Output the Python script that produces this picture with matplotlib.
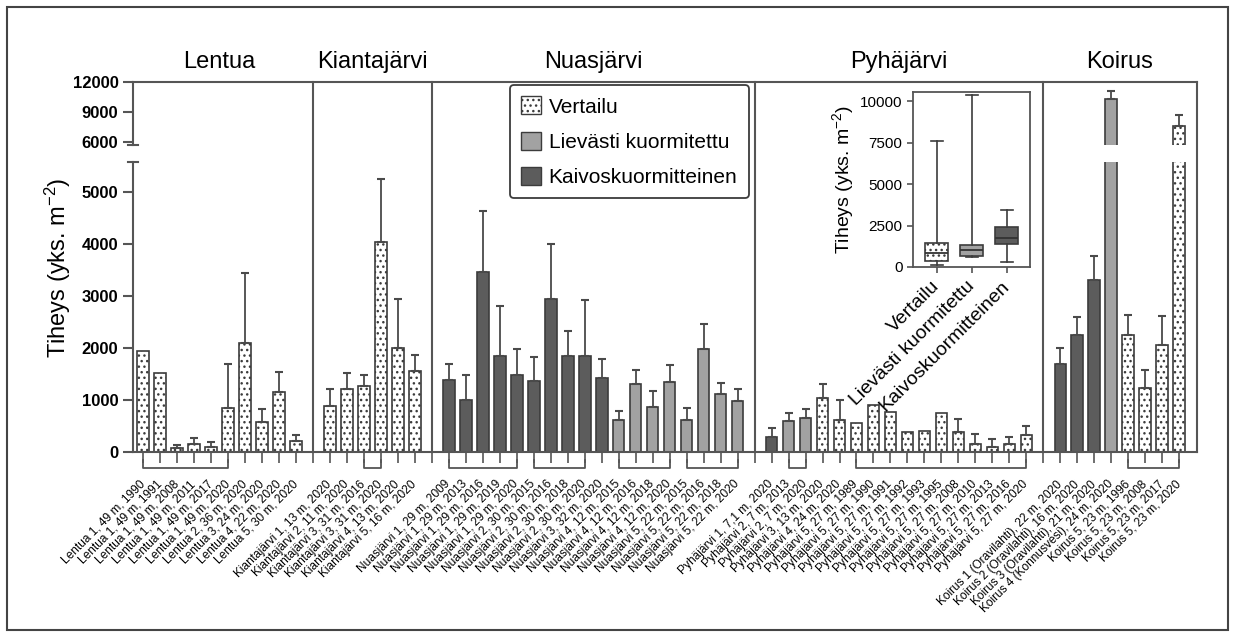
import matplotlib.pyplot as plt
import matplotlib.transforms as mtransforms
from matplotlib.patches import Patch, Rectangle

plt.rcParams['font.family'] = ['Liberation Sans', 'DejaVu Sans']
plt.rcParams['mathtext.fontset'] = 'custom'
plt.rcParams['mathtext.rm'] = 'Liberation Sans'
plt.rcParams['mathtext.it'] = 'Liberation Sans:italic'
plt.rcParams['hatch.color'] = '#6a6a6a'
plt.rcParams['hatch.linewidth'] = 1.0

# V = vertailu, L = lievästi kuormitettu, K = kaivoskuormitteinen
jarvet = ['Lentua', 'Kiantajärvi', 'Nuasjärvi', 'Pyhäjärvi', 'Koirus']

lentua_nimet = ['Lentua 1, 49 m, 1990', 'Lentua 1, 49 m, 1991', 'Lentua 1, 49 m, 2008',
                'Lentua 1, 49 m, 2011', 'Lentua 1, 49 m, 2017', 'Lentua 1, 49 m, 2020',
                'Lentua 2, 36 m, 2020', 'Lentua 3, 24 m, 2020', 'Lentua 4, 22 m, 2020',
                'Lentua 5, 30 m, 2020']
lentua_tiheys = [1940, 1510, 70, 150, 100, 850, 2100, 570, 1150, 220]
lentua_sd = [0, 0, 65, 115, 95, 840, 1340, 260, 380, 110]
lentua_tyyppi = ['V'] * 10
lentua_sarjat = [(0, 5)]

kianta_nimet = ['Kiantajärvi 1, 13 m, 2020', 'Kiantajärvi 2, 11 m, 2020',
                'Kiantajärvi 3, 31 m, 2016', 'Kiantajärvi 3, 31 m, 2020',
                'Kiantajärvi 4, 13 m, 2020', 'Kiantajärvi 5, 16 m, 2020']
kianta_tiheys = [890, 1210, 1270, 4030, 1990, 1560]
kianta_sd = [320, 310, 200, 1220, 940, 310]
kianta_tyyppi = ['V'] * 6
kianta_sarjat = [(2, 3)]

nuas_nimet = ['Nuasjärvi 1, 29 m, 2009', 'Nuasjärvi 1, 29 m, 2013', 'Nuasjärvi 1, 29 m, 2016',
              'Nuasjärvi 1, 29 m, 2019', 'Nuasjärvi 1, 29 m, 2020', 'Nuasjärvi 2, 30 m, 2015',
              'Nuasjärvi 2, 30 m, 2016', 'Nuasjärvi 2, 30 m, 2018', 'Nuasjärvi 2, 30 m, 2020',
              'Nuasjärvi 3, 32 m, 2020', 'Nuasjärvi 4, 12 m, 2015', 'Nuasjärvi 4, 12 m, 2016',
              'Nuasjärvi 4, 12 m, 2018', 'Nuasjärvi 4, 12 m, 2020', 'Nuasjärvi 5, 22 m, 2015',
              'Nuasjärvi 5, 22 m, 2016', 'Nuasjärvi 5, 22 m, 2018', 'Nuasjärvi 5, 22 m, 2020']
nuas_tiheys = [1390, 1000, 3450, 1850, 1480, 1370, 2940, 1850, 1850,
               1430, 620, 1300, 870, 1350, 610, 1970, 1120, 970]
nuas_sd = [300, 480, 1170, 960, 490, 450, 1050, 470, 1060,
           350, 170, 270, 310, 330, 230, 480, 210, 240]
nuas_tyyppi = ['K'] * 10 + ['L'] * 8
nuas_sarjat = [(0, 4), (5, 8), (10, 13), (14, 17)]

pyha_nimet = ['Pyhäjärvi 1, 7,1 m, 2020', 'Pyhäjärvi 2, 7 m, 2013', 'Pyhäjärvi 2, 7 m, 2020',
              'Pyhäjärvi 3, 13 m, 2020', 'Pyhäjärvi 4, 24 m, 2020', 'Pyhäjärvi 5, 27 m, 1989',
              'Pyhäjärvi 5, 27 m, 1990', 'Pyhäjärvi 5, 27 m, 1991', 'Pyhäjärvi 5, 27 m, 1992',
              'Pyhäjärvi 5, 27 m, 1993', 'Pyhäjärvi 5, 27 m, 1995', 'Pyhäjärvi 5, 27 m, 2008',
              'Pyhäjärvi 5, 27 m, 2010', 'Pyhäjärvi 5, 27 m, 2013', 'Pyhäjärvi 5, 27 m, 2016',
              'Pyhäjärvi 5, 27 m, 2020']
pyha_tiheys = [290, 600, 650, 1030, 610, 560, 900, 760, 390, 410, 750, 390, 150, 100, 150, 320]
pyha_sd = [170, 150, 170, 270, 390, 0, 0, 0, 0, 0, 0, 240, 190, 150, 130, 180]
pyha_tyyppi = ['K', 'L', 'L'] + ['V'] * 13
pyha_sarjat = [(1, 2), (5, 15)]

koirus_nimet = ['Koirus 1 (Oravilahti), 22 m, 2020', 'Koirus 2 (Oravilahti), 16 m, 2020',
                'Koirus 3 (Oravilahti), 21 m, 2020', 'Koirus 4 (Konnusvesi), 24 m, 2020',
                'Koirus 5, 23 m, 1996', 'Koirus 5, 23 m, 2008', 'Koirus 5, 23 m, 2017',
                'Koirus 5, 23 m, 2020']
koirus_tiheys = [1690, 2240, 3310, 10350, 2240, 1230, 2060, 7580]
koirus_sd = [310, 360, 460, 800, 390, 340, 560, 1150]
koirus_tyyppi = ['K', 'K', 'K', 'L', 'V', 'V', 'V', 'V']
koirus_sarjat = [(4, 7)]

# laatikkokuvaajan tunnusluvut (min, q1, mediaani, q3, max)
laatikko_nimet = ['Vertailu', 'Lievästi kuormitettu', 'Kaivoskuormitteinen']
laatikko_min = [100, 600, 300]
laatikko_q1 = [360, 650, 1400]
laatikko_med = [840, 1000, 1770]
laatikko_q3 = [1470, 1320, 2410]
laatikko_max = [7570, 10340, 3420]

ryhmat = [
    (lentua_nimet, lentua_tiheys, lentua_sd, lentua_tyyppi, lentua_sarjat),
    (kianta_nimet, kianta_tiheys, kianta_sd, kianta_tyyppi, kianta_sarjat),
    (nuas_nimet, nuas_tiheys, nuas_sd, nuas_tyyppi, nuas_sarjat),
    (pyha_nimet, pyha_tiheys, pyha_sd, pyha_tyyppi, pyha_sarjat),
    (koirus_nimet, koirus_tiheys, koirus_sd, koirus_tyyppi, koirus_sarjat),
]

# yksi tyhjä paikka järvien väliin, siihen pystyviiva
x_pos, nimet, tiheys, sd, tyyppi = [], [], [], [], []
erottimet, otsikko_x, sulut = [], [], []
paikka = 0
for g, (n, t, s, ty, sar) in enumerate(ryhmat):
    if g > 0:
        erottimet.append(paikka)
        paikka += 1
    xs = list(range(paikka, paikka + len(n)))
    x_pos += xs
    nimet += n
    tiheys += t
    sd += s
    tyyppi += ty
    otsikko_x.append((xs[0] + xs[-1]) / 2)
    for a, b in sar:
        sulut.append((xs[a], xs[b]))
    paikka += len(n)
oikea_reuna = paikka

W, H = 1235, 637
def fr(x0, y0, x1, y1):
    return [x0 / W, 1 - y1 / H, (x1 - x0) / W, (y1 - y0) / H]

vari = {'V': 'white', 'L': '#a2a2a2', 'K': '#5c5c5c'}
kuvio = {'V': '...', 'L': None, 'K': None}
reuna = '#3c3c3c'
akseli = '#555555'

fig = plt.figure(figsize=(12.35, 6.37), dpi=100)
ax_lo = fig.add_axes(fr(133, 162, 1197, 452))
ax_hi = fig.add_axes(fr(133, 82, 1197, 145), sharex=ax_lo)
ax_hi.patch.set_visible(False)

for ax in (ax_lo, ax_hi):
    for code in 'VLK':
        idx = [i for i, c in enumerate(tyyppi) if c == code]
        ax.bar([x_pos[i] for i in idx], [tiheys[i] for i in idx], width=0.68,
               color=vari[code], edgecolor=reuna, linewidth=1.2, hatch=kuvio[code], zorder=2)
    idx = [i for i in range(len(sd)) if sd[i] > 0]
    ax.errorbar([x_pos[i] for i in idx], [tiheys[i] for i in idx],
                yerr=[[0] * len(idx), [sd[i] for i in idx]], fmt='none',
                ecolor='#4a4a4a', elinewidth=1.3, capsize=3, capthick=1.5, zorder=3)
    ax.set_xlim(-0.6, oikea_reuna + 0.05)
    for sp in ax.spines.values():
        sp.set_color(akseli)
        sp.set_linewidth(1.5)
    ax.spines['right'].set_visible(False)
    ax.tick_params(axis='y', direction='out', length=7, width=1.5, color=akseli, labelsize=12)

ax_lo.set_ylim(0, 5570)
ax_hi.set_ylim(5700, 12000)
ax_lo.spines['top'].set_visible(False)
ax_hi.spines['bottom'].set_visible(False)
ax_lo.set_yticks(range(0, 6000, 1000))
ax_hi.set_yticks([6000, 9000, 12000])
for ax in (ax_lo, ax_hi):
    for lab in ax.get_yticklabels():
        lab.set_fontweight('bold')
ax_hi.tick_params(axis='x', bottom=False, labelbottom=False)

# katkoviivat y-akselilla
ax_lo.plot([-0.005, 0.005], [1, 1], transform=ax_lo.transAxes, clip_on=False, color=akseli, lw=1.5)
ax_hi.plot([-0.005, 0.005], [0, 0], transform=ax_hi.transAxes, clip_on=False, color=akseli, lw=1.5)

# x-akselin nimiöt
tick_lab = [''] * (oikea_reuna)
for x, n in zip(x_pos, nimet):
    tick_lab[x] = n
ax_lo.set_xticks(range(oikea_reuna))
ax_lo.set_xticklabels(tick_lab, rotation=45, ha='right', va='center',
                      rotation_mode='anchor', fontsize=8.6)
ax_lo.tick_params(axis='x', direction='out', length=8, width=1.2, color=akseli, pad=14)

# pystyviivat järvien välissä ja oikea reuna
yla = (452 - 82) / 290
tr_x = ax_lo.get_xaxis_transform()
for e in erottimet + [oikea_reuna + 0.05]:
    ax_lo.plot([e, e], [0, yla], transform=tr_x, clip_on=False, color=akseli, lw=1.5)

# saman paikan aikasarjat
for a, b in sulut:
    ax_lo.plot([a, a, b, b], [-8 / 290, -16 / 290, -16 / 290, -8 / 290], transform=tr_x,
               clip_on=False, color=akseli, lw=1.3)

tr_t = mtransforms.blended_transform_factory(ax_lo.transData, fig.transFigure)
for x, n in zip(otsikko_x, jarvet):
    ax_lo.text(x, 1 - 62 / H, n, transform=tr_t, ha='center', va='center', fontsize=17)

fig.text(58 / W, 1 - 268 / H, r'Tiheys (yks. m$^{-2}$)', rotation=90, ha='center',
         va='center', fontsize=17)

kahvat = [Patch(facecolor=vari[c], edgecolor=reuna, hatch=kuvio[c], label=l)
          for c, l in zip('VLK', laatikko_nimet)]
leg = fig.legend(handles=kahvat, loc='upper left', bbox_to_anchor=(510 / W, 1 - 85 / H),
                 fontsize=15, handlelength=0.95, handleheight=0.95, labelspacing=0.72,
                 handletextpad=0.35, borderpad=0.55, fancybox=True, framealpha=1,
                 edgecolor=reuna, borderaxespad=0)
leg.get_frame().set_linewidth(1.3)

# pieni laatikkokuvaaja
ax_in = fig.add_axes(fr(913, 92, 1030, 267))
stats = []
for n, lo, q1, md, q3, hi in zip(laatikko_nimet, laatikko_min, laatikko_q1, laatikko_med,
                                 laatikko_q3, laatikko_max):
    stats.append(dict(label=n, whislo=lo, q1=q1, med=md, q3=q3, whishi=hi, fliers=[]))
bp = ax_in.bxp(stats, positions=[1, 2, 3], widths=0.66, capwidths=0.34, patch_artist=True,
               showfliers=False,
               boxprops=dict(edgecolor=reuna, linewidth=1.2),
               medianprops=dict(color='#333333', linewidth=1.3),
               whiskerprops=dict(color=reuna, linewidth=1.2),
               capprops=dict(color=reuna, linewidth=1.2))
for patch, c in zip(bp['boxes'], 'VLK'):
    patch.set_facecolor(vari[c])
    if kuvio[c]:
        patch.set_hatch(kuvio[c])
ax_in.set_xlim(0.32, 3.67)
ax_in.set_ylim(0, 10550)
ax_in.set_yticks([0, 2500, 5000, 7500, 10000])
ax_in.tick_params(axis='y', labelsize=11, color=akseli, width=1.2, length=4)
ax_in.tick_params(axis='x', color=akseli, width=1.2, length=4, pad=8)
ax_in.set_xticklabels(laatikko_nimet, rotation=45, ha='right', va='center',
                      rotation_mode='anchor', fontsize=14)
for sp in ax_in.spines.values():
    sp.set_color(akseli)
    sp.set_linewidth(1.3)
fig.text(843 / W, 1 - 179 / H, r'Tiheys (yks. m$^{-2}$)', rotation=90, ha='center',
         va='center', fontsize=14)

fig.add_artist(Rectangle((7 / W, 7 / H), 1221 / W, 623 / H, transform=fig.transFigure,
                         fill=False, edgecolor='#444444', lw=1.5))

fig.savefig('out.png', dpi=100)
